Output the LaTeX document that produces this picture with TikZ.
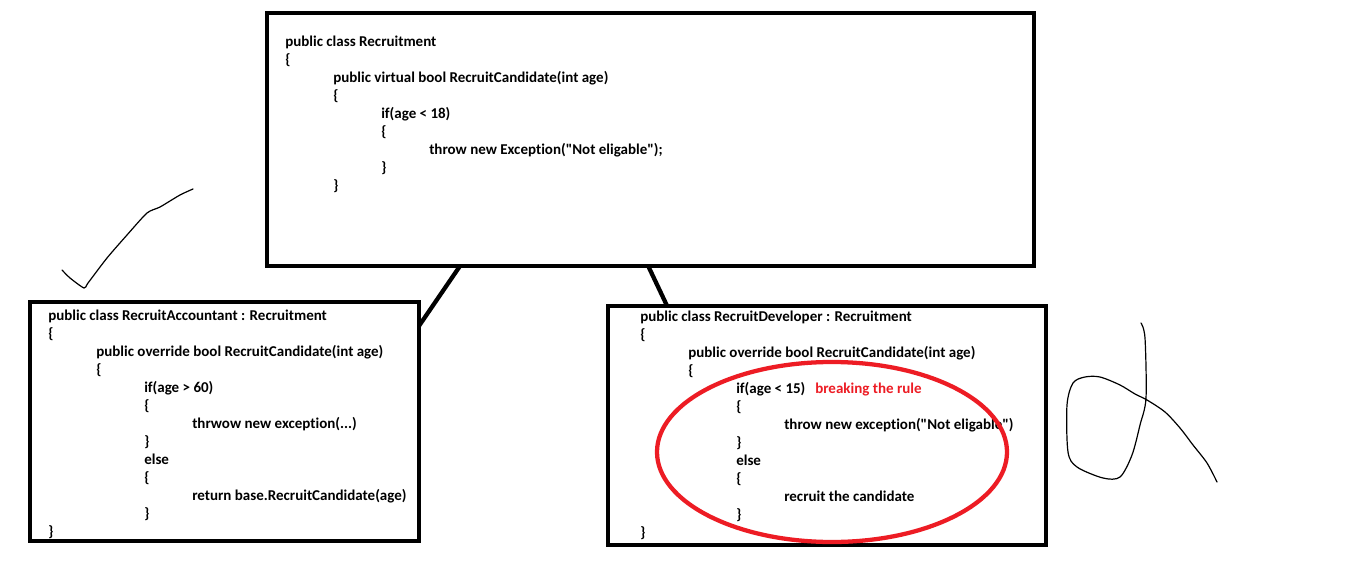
\documentclass[tikz,border=0pt]{standalone}
\usepackage{fontspec}
\newfontfamily\codefont[Ligatures={NoCommon}]{Carlito}
\usetikzlibrary{calc}
\definecolor{mspred}{RGB}{237,28,36}
\newcommand{\codeln}[4]{\node[code] (#1) at (#2,#3) {#4};}
\begin{document}
\begin{tikzpicture}[x=0.75pt,y=-0.75pt,
  box/.style={draw=black,line width=3pt,inner sep=0pt,outer sep=0pt,anchor=north west},
  link/.style={draw=black,line width=3.2pt},
  code/.style={anchor=base west,inner sep=0pt,font=\codefont\bfseries\fontsize{11.25}{13}\selectfont,text=black,yshift=-4.3pt},
  hand/.style={draw=black,line width=0.9pt,line join=round,line cap=round}]
\useasboundingbox (0,0) rectangle (1360,563);
\fill[white] (0,0) rectangle (1360,563);
% boxes
\node[box,minimum width=767*0.75pt,minimum height=253*0.75pt] (top) at (267,13) {};
\node[box,minimum width=389*0.75pt,minimum height=239*0.75pt] (acc) at (30,302) {};
\node[box,minimum width=438*0.75pt,minimum height=239*0.75pt] (dev) at (608,306) {};
% connectors
\draw[link] ($(top.south west)!0.2516!(top.south east)$) -- ($(acc.north east)!0.1!(acc.south east)$);
\draw[link] ($(top.south west)!0.497!(top.south east)$) -- ($(dev.north west)!0.135!(dev.north east)$);
% top code
\codeln{t1}{285}{41}{public class Recruitment}
\codeln{t2}{285}{59}{\{}
\codeln{t3}{333}{77}{public virtual bool RecruitCandidate(int age)}
\codeln{t4}{333}{95}{\{}
\codeln{t5}{381}{113}{if(age < 18)}
\codeln{t6}{381}{131}{\{}
\codeln{t7}{429}{149}{throw new Exception("Not eligable");}
\codeln{t8}{381}{167}{\}}
\codeln{t9}{333}{185}{\}}
% accountant
\codeln{a1}{48}{315}{public class RecruitAccountant : Recruitment}
\codeln{a2}{48}{333}{\{}
\codeln{a3}{96}{351}{public override bool RecruitCandidate(int age)}
\codeln{a4}{96}{369}{\{}
\codeln{a5}{144}{387}{if(age > 60)}
\codeln{a6}{144}{405}{\{}
\codeln{a7}{192}{423}{thrwow new exception(...)}
\codeln{a8}{144}{441}{\}}
\codeln{a9}{144}{459}{else}
\codeln{a10}{144}{477}{\{}
\codeln{a11}{192}{495}{return base.RecruitCandidate(age)}
\codeln{a12}{144}{513}{\}}
\codeln{a13}{48}{531}{\}}
% developer
\codeln{d1}{640}{316}{public class RecruitDeveloper : Recruitment}
\codeln{d2}{640}{334}{\{}
\codeln{d3}{688}{352}{public override bool RecruitCandidate(int age)}
\codeln{d4}{688}{370}{\{}
\codeln{d5}{736}{388}{if(age < 15)}
\node[code,text=mspred] (brk) at (815,388) {breaking the rule};
\codeln{d6}{736}{406}{\{}
\codeln{d7}{784}{424}{throw new exception("Not eligable")}
\codeln{d8}{736}{442}{\}}
\codeln{d9}{736}{460}{else}
\codeln{d10}{736}{478}{\{}
\codeln{d11}{784}{496}{recruit the candidate}
\codeln{d12}{736}{514}{\}}
\codeln{d13}{640}{532}{\}}
% red ellipse
\draw[mspred,line width=3.2pt] (832,452) ellipse [x radius=175, y radius=90];
% check mark
\draw[hand] plot[smooth,tension=0.4] coordinates {(62,270) (70,278) (84,288) (88,283) (107,258) (127,235) (147,213) (160,207) (180,195) (193,189)};
% squiggle
\draw[hand] plot[smooth,tension=0.5] coordinates {(1141,323) (1145,338) (1146,398) (1140,425) (1132,455) (1120,477) (1103,478) (1077,467) (1068,452) (1067,405) (1073,383) (1085,377) (1100,377) (1120,385) (1135,394) (1147,400) (1165,412) (1180,428) (1193,445) (1207,463) (1217,482)};
\end{tikzpicture}
\end{document}
